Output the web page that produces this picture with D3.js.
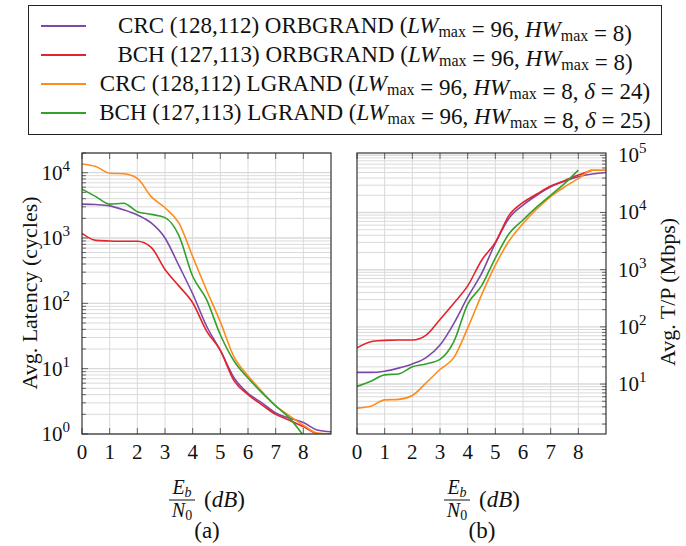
<!DOCTYPE html>
<html>
<head>
<meta charset="utf-8">
<script src="https://cdn.jsdelivr.net/npm/d3@7"></script>
<style>
  body { margin: 0; background: #fff; }
</style>
</head>
<body>
<div id="chart"></div>
<script>
// Eb/N0 sample points (dB)
const snr = [0, 0.5, 1, 1.5, 2, 2.5, 3, 3.5, 4, 4.5, 5, 5.5, 6, 6.5, 7, 7.5, 8, 8.5, 9];

// (a) average latency, cycles
const latCrcOrb = [3300, 3250, 3100, 2700, 2250, 1700, 1000, 380, 140, 45, 19, 7.2, 4.2, 3.0, 2.1, 1.75, 1.5, 1.15, 1.08];
const latBchOrb = [1180, 920, 900, 890, 890, 720, 330, 185, 102, 38, 19, 6.5, 4.0, 2.8, 2.0, 1.62, 1.3, 1.02, 1.0];
const latCrcL   = [13600, 12400, 9800, 9600, 8200, 4300, 2900, 1700, 520, 160, 52, 15, 7.8, 4.5, 2.7, 1.9, 1.37, 1.03, 1.0];
const latBchL   = [5600, 4300, 3300, 3400, 2530, 2300, 2050, 1100, 260, 115, 33, 13, 7.2, 4.3, 2.7, 1.75, 0.95];

// (b) average throughput, Mbps
const tpCrcOrb = [16, 16, 16.8, 19, 22.5, 29, 48, 115, 330, 850, 2900, 8000, 13500, 20000, 28000, 35000, 42000, 47000, 50000];
const tpBchOrb = [43, 55, 58, 59, 59, 72, 135, 260, 520, 1450, 3000, 9000, 15000, 21000, 29000, 36000, 45000, 55000];
const tpCrcL   = [3.8, 4.1, 5.3, 5.4, 6.3, 10.5, 18, 29, 95, 360, 1200, 3200, 6400, 11500, 19000, 28000, 39000, 55000, 55000];
const tpBchL   = [9.1, 11.2, 14.5, 15, 20, 22.5, 27, 55, 250, 520, 1600, 4300, 7400, 12500, 20000, 32000, 55000];

const xTicks = [0, 1, 2, 3, 4, 5, 6, 7, 8];
const latTicks = [1, 10, 100, 1000, 10000];
const tpTicks = [10, 100, 1000, 10000, 100000];

const names = [
  ["CRC (128,112) ORBGRAND (", "LW", " = 96, ", "HW", " = 8)"],
  ["BCH (127,113) ORBGRAND (", "LW", " = 96, ", "HW", " = 8)"],
  ["CRC (128,112) LGRAND (", "LW", " = 96, ", "HW", " = 8, ", "δ", " = 24)"],
  ["BCH (127,113) LGRAND (", "LW", " = 96, ", "HW", " = 8, ", "δ", " = 25)"]
];
const colors = ["#7b4aa8", "#e3242b", "#ff8c1a", "#34a02c"];

const W = 686, H = 546;
const svg = d3.select("#chart").append("svg").attr("width", W).attr("height", H);

// ---------- legend ----------
const lg = svg.append("g");
lg.append("rect").attr("x", 28.5).attr("y", 5.5).attr("width", 633).attr("height", 129)
  .attr("fill", "none").attr("stroke", "#222").attr("stroke-width", 1);
names.forEach((parts, i) => {
  const cy = 26 + i * 29;
  lg.append("line").attr("x1", 41).attr("x2", 86).attr("y1", cy).attr("y2", cy)
    .attr("stroke", colors[i]).attr("stroke-width", 2);
  const t = lg.append("text").attr("x", 375).attr("y", cy + 7)
    .attr("text-anchor", "middle").style("font-size", "23px");
  parts.forEach(p => {
    if (p === "LW" || p === "HW" || p === "δ") {
      t.append("tspan").style("font-style", "italic").text(p);
      if (p !== "δ") {
        t.append("tspan").attr("dy", 4).style("font-size", "16px").text("max");
        t.append("tspan").attr("dy", -4).text("");
      }
    } else {
      t.append("tspan").text(p);
    }
  });
});

// ---------- panels ----------
function panel(opts) {
  const { x, y, series, ticks, side, id } = opts;
  const g = svg.append("g");
  const [x0, x1] = x.range();
  const [yb, yt] = y.range();

  // grid
  const dec = d3.range(Math.floor(Math.log10(y.domain()[0])), Math.ceil(Math.log10(y.domain()[1])) + 1);
  const minor = [];
  dec.forEach(d => { for (let k = 1; k <= 9; k++) minor.push(k * Math.pow(10, d)); });
  const minorIn = minor.filter(v => v >= y.domain()[0] && v <= y.domain()[1]);
  g.selectAll(".hg").data(minorIn).join("line")
    .attr("x1", x0).attr("x2", x1)
    .attr("y1", d => y(d)).attr("y2", d => y(d))
    .attr("stroke", "#dadada").attr("stroke-width", d => ticks.includes(d) ? 1.4 : 1);
  g.selectAll(".vg").data(d3.range(1, 9)).join("line")
    .attr("x1", d => x(d)).attr("x2", d => x(d))
    .attr("y1", yt).attr("y2", yb)
    .attr("stroke", "#dadada").attr("stroke-width", 1);

  // ticks
  const ax = side === "left" ? x0 : x1;
  const dir = side === "left" ? 1 : -1;
  g.selectAll(".yt").data(minorIn).join("line")
    .attr("x1", ax).attr("x2", d => ax + dir * (ticks.includes(d) ? 6 : 4))
    .attr("y1", d => y(d)).attr("y2", d => y(d))
    .attr("stroke", "#444").attr("stroke-width", 0.8);
  [yb, yt].forEach((yy, j) => {
    g.selectAll(".xt" + j).data(xTicks).join("line")
      .attr("x1", d => x(d)).attr("x2", d => x(d))
      .attr("y1", yy).attr("y2", yy + (j === 0 ? -6 : 6))
      .attr("stroke", "#444").attr("stroke-width", 0.8);
  });

  // curves
  g.append("clipPath").attr("id", id).append("rect")
    .attr("x", x0).attr("y", yt).attr("width", x1 - x0).attr("height", yb - yt);
  const line = d3.line()
    .x((d, i) => x(snr[i]))
    .y(d => y(d))
    .curve(d3.curveMonotoneX);
  g.append("g").attr("clip-path", `url(#${id})`)
    .selectAll("path").data(series).join("path")
    .attr("d", d => line(d))
    .attr("fill", "none")
    .attr("stroke", (d, i) => colors[i])
    .attr("stroke-width", 1.6);

  // frame
  g.append("rect").attr("x", x0).attr("y", yt).attr("width", x1 - x0).attr("height", yb - yt)
    .attr("fill", "none").attr("stroke", "#222").attr("stroke-width", 1.1);

  // x tick labels
  g.selectAll(".xl").data(xTicks).join("text")
    .attr("x", d => x(d)).attr("y", yb + 25)
    .attr("text-anchor", "middle").style("font-size", "21px")
    .text(d => d);

  // y tick labels
  const yl = g.selectAll(".yl").data(ticks).join("text")
    .attr("x", side === "left" ? x0 - 12 : x1 + 12)
    .attr("y", d => y(d) + 7)
    .attr("text-anchor", side === "left" ? "end" : "start")
    .style("font-size", "21px");
  yl.append("tspan").text("10");
  yl.append("tspan").attr("dy", -9).style("font-size", "15px").text(d => Math.round(Math.log10(d)));
  return g;
}

const xA = d3.scaleLinear().domain([0, 9]).range([82, 331]);
const yA = d3.scaleLog().domain([1, 2e4]).range([434, 153]);
const xB = d3.scaleLinear().domain([0, 9]).range([357, 606]);
const yB = d3.scaleLog().domain([Math.pow(10, 0.127), Math.pow(10, 5.04)]).range([434, 153]);

panel({ x: xA, y: yA, series: [latCrcOrb, latBchOrb, latCrcL, latBchL], ticks: latTicks, side: "left", id: "clipA" });
panel({ x: xB, y: yB, series: [tpCrcOrb, tpBchOrb, tpCrcL, tpBchL], ticks: tpTicks, side: "right", id: "clipB" });

// axis titles
svg.append("text").attr("transform", "translate(37,293) rotate(-90)")
  .attr("text-anchor", "middle").style("font-size", "22px").text("Avg. Latency (cycles)");
svg.append("text").attr("transform", "translate(675,292) rotate(-90)")
  .attr("text-anchor", "middle").style("font-size", "22px").text("Avg. T/P (Mbps)");

// x titles: Eb/N0 (dB)
function xTitle(cx, sub) {
  const g = svg.append("g");
  const fx = cx - 25;
  const e = g.append("text").attr("x", fx).attr("y", 494).attr("text-anchor", "middle").style("font-size", "20px");
  e.append("tspan").style("font-style", "italic").text("E");
  e.append("tspan").attr("dy", 3).style("font-size", "14px").style("font-style", "italic").text("b");
  const n = g.append("text").attr("x", fx).attr("y", 517).attr("text-anchor", "middle").style("font-size", "20px");
  n.append("tspan").style("font-style", "italic").text("N");
  n.append("tspan").attr("dy", 3).style("font-size", "14px").text("0");
  g.append("line").attr("x1", fx - 13).attr("x2", fx + 13).attr("y1", 500).attr("y2", 500)
    .attr("stroke", "#111").attr("stroke-width", 1);
  const d = g.append("text").attr("x", fx + 22).attr("y", 507).style("font-size", "23px");
  d.append("tspan").text("(");
  d.append("tspan").style("font-style", "italic").text("dB");
  d.append("tspan").text(")");
  g.append("text").attr("x", cx).attr("y", 538).attr("text-anchor", "middle")
    .style("font-size", "23px").text(sub);
}
xTitle(207, "(a)");
xTitle(482, "(b)");

// serif face on every text node
svg.selectAll("text").style("font-family", '"Liberation Serif"').style("fill", "#111");
</script>
</body>
</html>
